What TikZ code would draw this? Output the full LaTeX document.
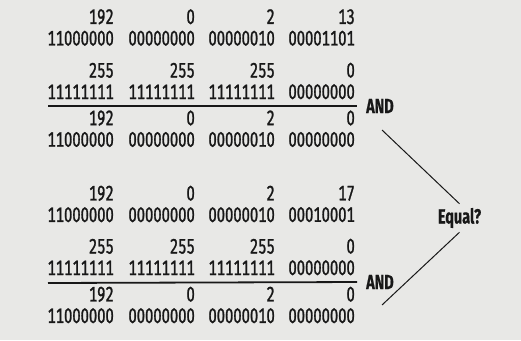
\documentclass[tikz,border=0pt]{standalone}
\usepackage{fontspec}
\setsansfont{Fira Sans}[FakeStretch=0.705, FakeBold=1.2, Numbers=Monospaced,
  BoldFeatures={FakeBold=0.6}]
\definecolor{paper}{RGB}{232,232,230}
\definecolor{ink}{RGB}{24,24,24}

\begin{document}
\begin{tikzpicture}[
  x=1pt, y=-1pt,
  every node/.style={font=\sffamily\fontsize{21}{21.5}\selectfont, text=ink,
                     align=right, inner sep=0pt},
  grp/.style={anchor=east},
  op/.style={font=\sffamily\bfseries\fontsize{20.5}{21}\selectfont, inner sep=4pt},
  rule/.style={draw=ink, line width=1.8pt},
  link/.style={draw=ink, line width=1pt}
]
  \fill[paper] (0,0) rectangle (521,340);
  \useasboundingbox (0,0) rectangle (521,340);
  % first address, mask and result
  \node[grp] (ipa1) at (114,27.5) {192\\11000000};
  \node[grp] (ipa2) at (195,27.5) {0\\00000000};
  \node[grp] (ipa3) at (275,27.5) {2\\00000010};
  \node[grp] (ipa4) at (355,27.5) {13\\00001101};
  \node[grp] (mka1) at (114,81) {255\\11111111};
  \node[grp] (mka2) at (195,81) {255\\11111111};
  \node[grp] (mka3) at (275,81) {255\\11111111};
  \node[grp] (mka4) at (355,81) {0\\00000000};
  \node[op, anchor=west] (anda) at (362,106) {AND};
  \draw[rule, shorten >=5pt] (48,106) -- (anda.west);
  \node[grp] (rsa1) at (114,128.75) {192\\11000000};
  \node[grp] (rsa2) at (195,128.75) {0\\00000000};
  \node[grp] (rsa3) at (275,128.75) {2\\00000010};
  \node[grp] (rsa4) at (355,128.75) {0\\00000000};
  % second address, mask and result
  \node[grp] (ipb1) at (114,204) {192\\11000000};
  \node[grp] (ipb2) at (195,204) {0\\00000000};
  \node[grp] (ipb3) at (275,204) {2\\00000010};
  \node[grp] (ipb4) at (355,204) {17\\00010001};
  \node[grp] (mkb1) at (114,257) {255\\11111111};
  \node[grp] (mkb2) at (195,257) {255\\11111111};
  \node[grp] (mkb3) at (275,257) {255\\11111111};
  \node[grp] (mkb4) at (355,257) {0\\00000000};
  \node[op, anchor=west] (andb) at (362,282) {AND};
  \draw[rule, shorten >=5pt] (48,283) -- (andb.west);
  \node[grp] (rsb1) at (114,305) {192\\11000000};
  \node[grp] (rsb2) at (195,305) {0\\00000000};
  \node[grp] (rsb3) at (275,305) {2\\00000010};
  \node[grp] (rsb4) at (355,305) {0\\00000000};
  % compare
  \node[op] (eq) at (459.5,218) {Equal?};
  \coordinate (ta) at (382,130);
  \coordinate (tb) at (382,305);
  \draw[link] (ta) -- (eq.north);
  \draw[link] (eq.south) -- (tb);
\end{tikzpicture}
\end{document}
